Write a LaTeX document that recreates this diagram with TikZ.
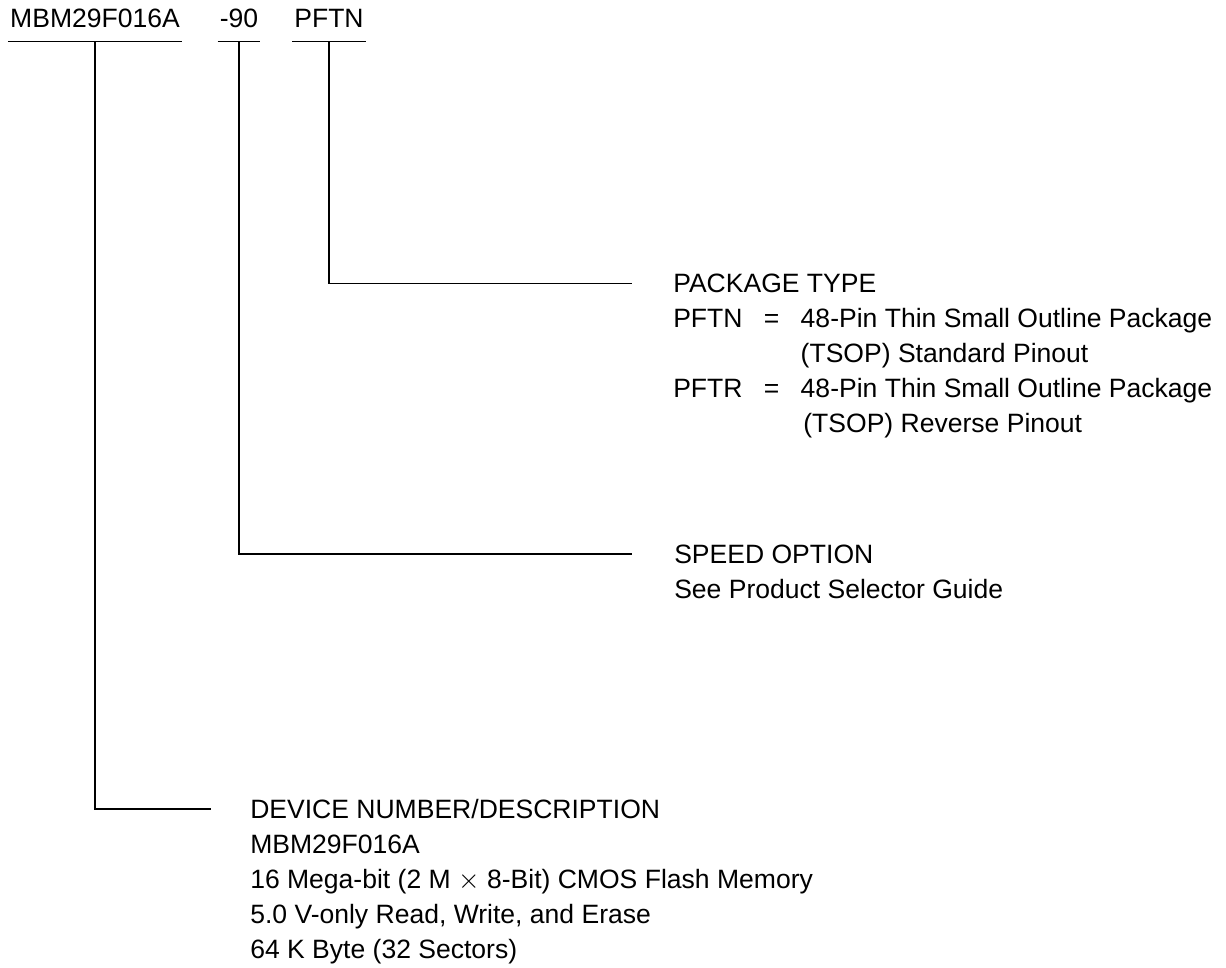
\documentclass[tikz,border=0pt]{standalone}
\usepackage{fontspec}
\setmainfont{Liberation Sans}
\usetikzlibrary{positioning}

\newcommand{\partfont}{\fontsize{19.9pt}{26.25pt}\selectfont}
\tikzset{
  field/.style={anchor=base, inner xsep=1.5pt, inner ysep=10.3pt, text depth=0pt, font=\partfont},
  desc/.style={anchor=base west, align=left, inner sep=0pt, font=\partfont},
  rule/.style={line width=0.9pt},
}

\begin{document}
\begin{tikzpicture}[x=0.75pt, y=-0.75pt]
	\useasboundingbox (0,0) rectangle (1226,967);

	% part number fields
	\node[field] (pn) at (95,27.5) {MBM29F016A};
	\node[field] (spd) at (239,27.5) {-90};
	\node[field] (pkg) at (329,27.5) {PFTN};

	\draw[rule] (pn.south west) -- (pn.south east);
	\draw[rule] (spd.south west) -- (spd.south east);
	\draw[rule] (pkg.south west) -- (pkg.south east);

	% ends of the leaders
	\coordinate (pkg-end) at (632,283.5);
	\coordinate (spd-end) at (632,554);
	\coordinate (pn-end) at (210.5,809);

	% base west is on the last line of each block
	\node[desc] (pkgdesc) at ([shift={(41,149.4)}]pkg-end) {PACKAGE TYPE\\
		\makebox[67.9pt][l]{PFTN}\makebox[27.7pt][l]{=}48-Pin Thin Small Outline Package\\
		\hspace*{95.6pt}(TSOP) Standard Pinout\\
		\makebox[67.9pt][l]{PFTR}\makebox[27.7pt][l]{=}48-Pin Thin Small Outline Package\\
		\hspace*{97.6pt}(TSOP) Reverse Pinout};
	\node[desc] (spddesc) at ([shift={(42,44.4)}]spd-end) {SPEED OPTION\\
		See Product Selector Guide};
	\node[desc] (pndesc) at ([shift={(39.5,149.4)}]pn-end) {DEVICE NUMBER/DESCRIPTION\\
		MBM29F016A\\
		16 Mega-bit (2 M $\times$ 8-Bit) CMOS Flash Memory\\
		5.0 V-only Read, Write, and Erase\\
		64 K Byte (32 Sectors)};

	\draw[rule] (pkg.south) |- (pkg-end);
	\draw[rule] (spd.south) |- (spd-end);
	\draw[rule] (pn.south) |- (pn-end);
\end{tikzpicture}
\end{document}
